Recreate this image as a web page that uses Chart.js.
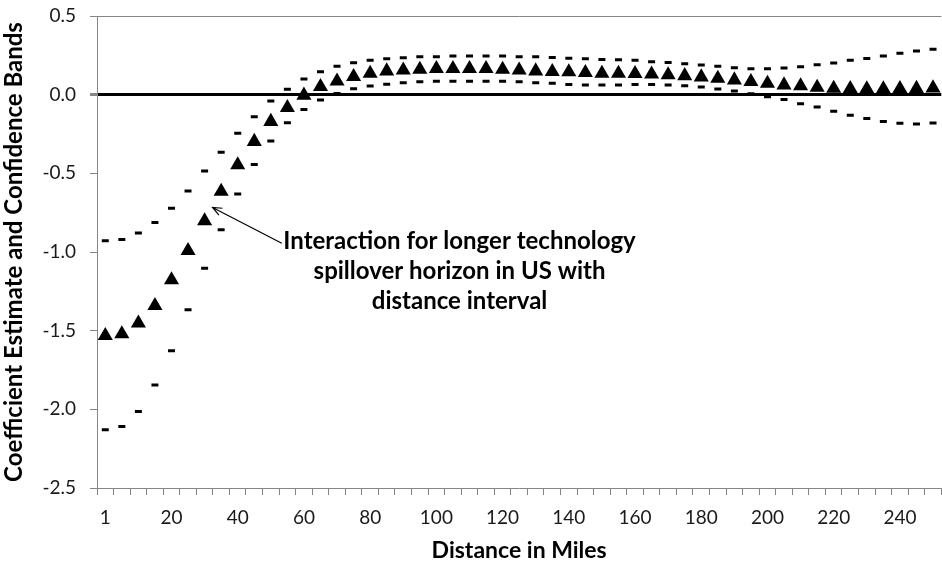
<!DOCTYPE html>
<html>
<head>
<meta charset="utf-8">
<script src="https://cdn.jsdelivr.net/npm/chart.js@4"></script>
<style>
  html, body { margin: 0; padding: 0; background: #fff; overflow: hidden; }
  #wrap { width: 942px; height: 565px; overflow: hidden; }
</style>
</head>
<body>
<div id="wrap"><canvas id="chart" width="950" height="565"></canvas></div>
<script>
// distance intervals (miles)
const distances = ["1", "5", "10", "15", "20", "25", "30", "35", "40", "45",
  "50", "55", "60", "65", "70", "75", "80", "85", "90", "95",
  "100", "105", "110", "115", "120", "125", "130", "135", "140", "145",
  "150", "155", "160", "165", "170", "175", "180", "185", "190", "195",
  "200", "205", "210", "215", "220", "225", "230", "235", "240", "245", "250"];

const estimate = [-1.532, -1.521, -1.453, -1.341, -1.178, -0.992, -0.802, -0.615, -0.447, -0.298,
  -0.171, -0.083, -0.004, 0.051, 0.086, 0.114, 0.135, 0.150, 0.156, 0.161,
  0.165, 0.165, 0.165, 0.165, 0.161, 0.156, 0.150, 0.146, 0.144, 0.140,
  0.135, 0.135, 0.133, 0.130, 0.126, 0.120, 0.112, 0.103, 0.093, 0.082,
  0.072, 0.061, 0.055, 0.046, 0.040, 0.038, 0.037, 0.037, 0.038, 0.039, 0.042];

const upperBand = [-0.929, -0.920, -0.880, -0.812, -0.722, -0.612, -0.485, -0.366, -0.246, -0.140,
  -0.041, 0.034, 0.099, 0.145, 0.180, 0.203, 0.218, 0.228, 0.235, 0.241,
  0.241, 0.245, 0.245, 0.245, 0.245, 0.241, 0.241, 0.237, 0.232, 0.228,
  0.224, 0.222, 0.218, 0.209, 0.205, 0.197, 0.188, 0.180, 0.171, 0.165,
  0.165, 0.169, 0.178, 0.190, 0.201, 0.218, 0.230, 0.245, 0.264, 0.277, 0.289];

const lowerBand = [-2.130, -2.109, -2.014, -1.845, -1.627, -1.367, -1.104, -0.859, -0.632, -0.444,
  -0.294, -0.178, -0.095, -0.034, 0.008, 0.038, 0.055, 0.067, 0.076, 0.082,
  0.086, 0.086, 0.086, 0.086, 0.086, 0.082, 0.076, 0.072, 0.065, 0.061,
  0.061, 0.061, 0.065, 0.065, 0.061, 0.057, 0.048, 0.036, 0.023, 0.006,
  -0.013, -0.030, -0.057, -0.079, -0.106, -0.131, -0.152, -0.171, -0.182, -0.187, -0.180];

// every 4th category gets a label
const labelEvery = 4;

const noteLines = ["Interaction for longer technology", "spillover horizon in US with", "distance interval"];
// note position in data units (category index, value)
const noteAt = { x: 21.4, y: -0.931 };
const arrowFrom = { x: 10.66, y: -0.944 };
const arrowTo = { x: 6.48, y: -0.717 };

const axisGrey = "#868686";
const textColor = "#1a1a1a";

const notePlugin = {
  id: "note",
  afterDatasetsDraw(chart) {
    const { ctx, scales: { x, y } } = chart;
    ctx.save();
    ctx.fillStyle = "#000";
    ctx.font = "bold 24px Lato";
    ctx.textAlign = "center";
    ctx.textBaseline = "middle";
    const cx = x.getPixelForValue(noteAt.x);
    const cy = y.getPixelForValue(noteAt.y);
    noteLines.forEach((line, i) => ctx.fillText(line, cx, cy + i * 30));

    // arrow
    const x1 = x.getPixelForValue(arrowFrom.x), y1 = y.getPixelForValue(arrowFrom.y);
    const x2 = x.getPixelForValue(arrowTo.x), y2 = y.getPixelForValue(arrowTo.y);
    ctx.strokeStyle = "#000";
    ctx.lineWidth = 1.2;
    ctx.beginPath();
    ctx.moveTo(x1, y1);
    ctx.lineTo(x2, y2);
    const ang = Math.atan2(y2 - y1, x2 - x1);
    const head = 10;
    ctx.moveTo(x2 - head * Math.cos(ang - 0.4), y2 - head * Math.sin(ang - 0.4));
    ctx.lineTo(x2, y2);
    ctx.lineTo(x2 - head * Math.cos(ang + 0.4), y2 - head * Math.sin(ang + 0.4));
    ctx.stroke();
    ctx.restore();
  }
};

new Chart(document.getElementById("chart"), {
  type: "line",
  data: {
    labels: distances,
    datasets: [
      {
        label: "Upper band",
        data: upperBand,
        showLine: false,
        pointStyle: "line",
        pointRadius: 3.5,
        pointBorderWidth: 3,
        borderColor: "#000",
        backgroundColor: "#000"
      },
      {
        label: "Lower band",
        data: lowerBand,
        showLine: false,
        pointStyle: "line",
        pointRadius: 3.5,
        pointBorderWidth: 3,
        borderColor: "#000",
        backgroundColor: "#000"
      },
      {
        label: "Coefficient estimate",
        data: estimate,
        showLine: false,
        pointStyle: "triangle",
        pointRadius: 8.7,
        pointBorderWidth: 0,
        borderColor: "#000",
        backgroundColor: "#000"
      }
    ]
  },
  options: {
    responsive: false,
    animation: false,
    devicePixelRatio: 1,
    layout: { padding: { top: 16, right: 3, bottom: 0, left: 0 } },
    plugins: {
      legend: { display: false },
      tooltip: { enabled: false }
    },
    scales: {
      x: {
        type: "category",
        offset: true,
        afterFit(scale) { scale.height = 77; },
        border: { color: axisGrey, width: 1 },
        grid: {
          offset: true,
          drawOnChartArea: false,
          tickLength: 7,
          tickColor: axisGrey
        },
        ticks: {
          autoSkip: false,
          maxRotation: 0,
          padding: 11,
          color: textColor,
          font: { family: "Lato", size: 19 },
          callback(value, index) {
            return index % labelEvery === 0 ? distances[index] : "";
          }
        },
        title: {
          display: true,
          text: "Distance in Miles",
          color: "#000",
          font: { family: "Lato", size: 23, weight: "bold" },
          padding: { top: 0, bottom: 1 }
        }
      },
      y: {
        min: -2.5,
        max: 0.5,
        afterFit(scale) {
          scale.width = 97;
          scale.paddingTop = 0;
          scale.paddingBottom = 0;
        },
        border: { color: axisGrey, width: 1 },
        grid: {
          tickLength: 7,
          tickColor: axisGrey,
          color(ctx) {
            if (ctx.tick && ctx.tick.value === 0) return "#000";
            if (ctx.tick && ctx.tick.value === 0.5) return axisGrey;
            return "rgba(0,0,0,0)";
          },
          lineWidth(ctx) {
            return ctx.tick && ctx.tick.value === 0 ? 3 : 1;
          }
        },
        ticks: {
          stepSize: 0.5,
          padding: 14,
          color: textColor,
          font: { family: "Lato", size: 19 },
          callback(value) { return value.toFixed(1); }
        },
        title: {
          display: true,
          text: "Coefficient Estimate and Confidence Bands",
          color: "#000",
          font: { family: "Lato", size: 24, weight: "bold" },
          padding: { top: 0, bottom: 0 }
        }
      }
    }
  },
  plugins: [notePlugin]
});
</script>
</body>
</html>
